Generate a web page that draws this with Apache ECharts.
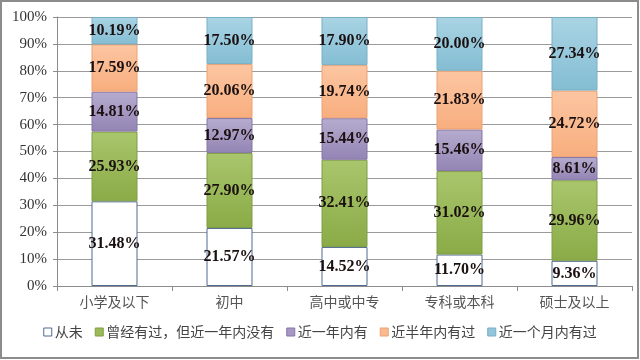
<!DOCTYPE html>
<html><head><meta charset="utf-8">
<script src="https://cdn.jsdelivr.net/npm/echarts@6/dist/echarts.min.js"></script>
<style>html,body{margin:0;padding:0;background:#fff}#c{width:640px;height:360px}</style>
</head><body><div id="c"></div>
<script>
const categories = ['小学及以下','初中','高中或中专','专科或本科','硕士及以上'];
const seriesNames = ['从未','曾经有过，但近一年内没有','近一年内有','近半年内有过','近一个月内有过'];
const never = [31.48, 21.57, 14.52, 11.70, 9.36];
const onceNotYear = [25.93, 27.90, 32.41, 31.02, 29.96];
const withinYear = [14.81, 12.97, 15.44, 15.46, 8.61];
const withinHalfYear = [17.59, 20.06, 19.74, 21.83, 24.72];
const withinMonth = [10.19, 17.50, 17.90, 20.00, 27.34];
const yTicks = ['0%','10%','20%','30%','40%','50%','60%','70%','80%','90%','100%'];

const values = [never, onceNotYear, withinYear, withinHalfYear, withinMonth];
const styles = [
  {top:'#ffffff', bottom:'#ffffff', border:'#4f6b8f', legend:'#ffffff'},
  {top:'#a9c66c', bottom:'#8aab47', border:'#7f9e44', legend:'#9bbb59'},
  {top:'#b6acce', bottom:'#9384b4', border:'#8576a8', legend:'#a598c4'},
  {top:'#fcc6a2', bottom:'#f8ae7e', border:'#eaa274', legend:'#fab98e'},
  {top:'#a9d4e4', bottom:'#84bdd3', border:'#78afc4', legend:'#93c6da'}
];
const chart = echarts.init(document.getElementById('c'));
const serif = '"Liberation Serif","DejaVu Serif",serif';
const cjk = '"Noto Sans CJK SC","Noto Sans",sans-serif';
chart.setOption({
  animation:false,
  grid:{left:57,right:8,top:17,bottom:74},
  graphic:[{type:'rect',shape:{x:1,y:1,width:637,height:357},style:{fill:'none',stroke:'#8c8c8c',lineWidth:2},silent:true}],
  legend:{
    bottom:16, left:'center', itemWidth:8, itemHeight:8, itemGap:12, icon:'rect',
    textStyle:{fontFamily:cjk,fontSize:14,color:'#444',padding:[0,0,0,-2]},
    data: seriesNames.map((n,i)=>({name:n,itemStyle:{color:styles[i].legend,borderColor:styles[i].border,borderWidth:1}}))
  },
  xAxis:{type:'category',data:categories,
    axisLine:{lineStyle:{color:'#8c8c8c'}},
    axisTick:{show:true,length:5,lineStyle:{color:'#8c8c8c'}},
    axisLabel:{fontFamily:cjk,fontSize:14,color:'#555',margin:9}},
  yAxis:{type:'value',min:0,max:100,interval:10,
    axisLine:{show:true,lineStyle:{color:'#8c8c8c'}},
    axisTick:{show:true,length:4,lineStyle:{color:'#8c8c8c'}},
    splitLine:{lineStyle:{color:'#9a9a9a'}},
    axisLabel:{fontFamily:serif,fontSize:15,color:'#333',margin:10,formatter:v=>yTicks[Math.round(v/10)]}},
  series: values.map((arr,i)=>({
    name:seriesNames[i], type:'bar', stack:'all', barWidth:'40%',
    data:arr,
    itemStyle:{
      color:new echarts.graphic.LinearGradient(0,0,0,1,[{offset:0,color:styles[i].top},{offset:1,color:styles[i].bottom}]),
      borderColor:styles[i].border, borderWidth:1
    },
    label:{show:true,position:'inside',formatter:p=>p.value.toFixed(2)+'%',
      fontFamily:serif,fontWeight:'bold',fontSize:16,color:'#1a1010'}
  }))
});
</script></body></html>
